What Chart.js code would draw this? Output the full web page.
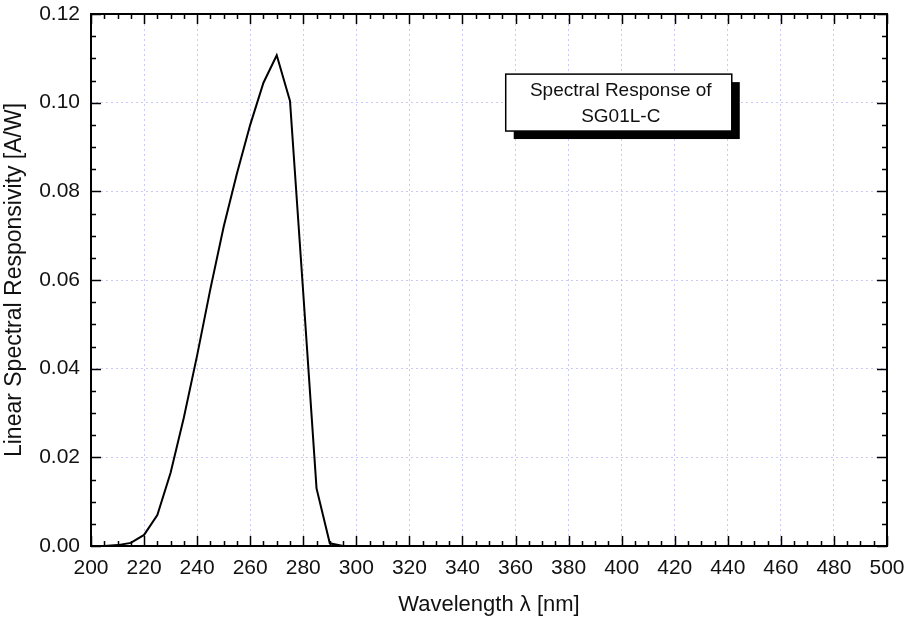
<!DOCTYPE html>
<html>
<head>
<meta charset="utf-8">
<script src="https://cdn.jsdelivr.net/npm/chart.js@4"></script>
<style>
  html, body { margin: 0; padding: 0; background: #fff; }
  #wrap { width: 904px; height: 618px; }
</style>
</head>
<body>
<div id="wrap"><canvas id="resp"></canvas></div>
<script>
// wavelength [nm] and responsivity [A/W]
const wavelength = [200, 205, 210, 215, 220, 225, 230, 235, 240, 245, 250, 255, 260, 265, 270, 275, 280, 285, 290, 295, 300];
const responsivity = [0, 0, 0.0002, 0.0007, 0.0025, 0.007, 0.0165, 0.029, 0.043, 0.058, 0.072, 0.084, 0.095, 0.1045, 0.1107, 0.1004, 0.057, 0.013, 0.0006, 0, 0];
const xTicks = [200, 220, 240, 260, 280, 300, 320, 340, 360, 380, 400, 420, 440, 460, 480, 500];
const yTicks = [0, 0.02, 0.04, 0.06, 0.08, 0.10, 0.12];
const boxLines = ['Spectral Response of', 'SG01L-C'];

const FONT = "'Liberation Sans', Arial, sans-serif";
const gridColor = 'rgba(150,150,240,0.5)';

// inward ticks on all four sides + frame
const frameTicks = {
  id: 'frameTicks',
  afterDatasetsDraw(chart) {
    const ctx = chart.ctx, a = chart.chartArea;
    const xs = chart.scales.x, ys = chart.scales.y;
    ctx.save();
    ctx.strokeStyle = '#000';
    ctx.lineWidth = 1.5;
    ctx.beginPath();
    for (let v = 200; v <= 500; v += 5) {
      const px = Math.round(xs.getPixelForValue(v)) + 0.5;
      const len = (v % 20 === 0) ? 10 : 5;
      ctx.moveTo(px, a.bottom); ctx.lineTo(px, a.bottom - len);
      ctx.moveTo(px, a.top); ctx.lineTo(px, a.top + len);
    }
    for (let i = 0; i <= 24; i++) {
      const v = i * 0.005;
      const py = Math.round(ys.getPixelForValue(v)) + 0.5;
      const len = (i % 4 === 0) ? 10 : 5;
      ctx.moveTo(a.left, py); ctx.lineTo(a.left + len, py);
      ctx.moveTo(a.right, py); ctx.lineTo(a.right - len, py);
    }
    ctx.stroke();
    ctx.lineWidth = 2;
    ctx.strokeRect(a.left, a.top, a.right - a.left, a.bottom - a.top);
    ctx.restore();
  }
};

// note box with drop shadow
const noteBox = {
  id: 'noteBox',
  afterDraw(chart) {
    const ctx = chart.ctx, a = chart.chartArea;
    const w = a.right - a.left, h = a.bottom - a.top;
    const bx = a.left + w * 0.521, by = a.top + h * 0.113;
    const bw = w * 0.284, bh = h * 0.107;
    ctx.save();
    ctx.fillStyle = '#000';
    ctx.fillRect(bx + 8, by + 8, bw, bh);
    ctx.fillStyle = '#fff';
    ctx.fillRect(bx, by, bw, bh);
    ctx.strokeStyle = '#000';
    ctx.lineWidth = 1.5;
    ctx.strokeRect(bx, by, bw, bh);
    ctx.fillStyle = '#111';
    ctx.font = '19px ' + FONT;
    ctx.textAlign = 'center';
    ctx.textBaseline = 'middle';
    ctx.fillText(boxLines[0], bx + bw / 2 + 2, by + 17);
    ctx.fillText(boxLines[1], bx + bw / 2 + 2, by + 43);
    ctx.restore();
  }
};

new Chart(document.getElementById('resp'), {
  type: 'line',
  data: {
    datasets: [{
      data: wavelength.map((w, i) => ({ x: w, y: responsivity[i] })),
      borderColor: '#000',
      borderWidth: 2,
      pointRadius: 0,
      tension: 0,
      fill: false
    }]
  },
  options: {
    responsive: true,
    maintainAspectRatio: false,
    animation: false,
    layout: { padding: { top: 14, right: 17, left: 0, bottom: 0 } },
    plugins: { legend: { display: false }, tooltip: { enabled: false } },
    scales: {
      x: {
        type: 'linear',
        min: 200,
        max: 500,
        afterBuildTicks: s => { s.ticks = xTicks.map(v => ({ value: v })); },
        afterFit: s => { s.height = 72; s.paddingLeft = 0; s.paddingRight = 0; },
        grid: { color: gridColor, drawTicks: false, lineWidth: 1 },
        border: { display: false, dash: [2, 3] },
        ticks: { color: '#111', font: { family: FONT, size: 21 }, padding: 10, maxRotation: 0 },
        title: { display: true, text: 'Wavelength λ [nm]', color: '#111', font: { family: FONT, size: 22 }, padding: { top: 0, bottom: 0 } }
      },
      y: {
        min: 0,
        max: 0.12,
        afterBuildTicks: s => { s.ticks = yTicks.map(v => ({ value: v })); },
        afterFit: s => { s.width = 91; s.paddingTop = 0; s.paddingBottom = 0; },
        grid: { color: gridColor, drawTicks: false, lineWidth: 1 },
        border: { display: false, dash: [2, 3] },
        ticks: { color: '#111', font: { family: FONT, size: 21 }, padding: 11, callback: v => v.toFixed(2) },
        title: { display: true, text: 'Linear Spectral Responsivity [A/W]', color: '#111', font: { family: FONT, size: 23 }, padding: { top: 1, bottom: 0 } }
      }
    }
  },
  plugins: [frameTicks, noteBox]
});
</script>
</body>
</html>
